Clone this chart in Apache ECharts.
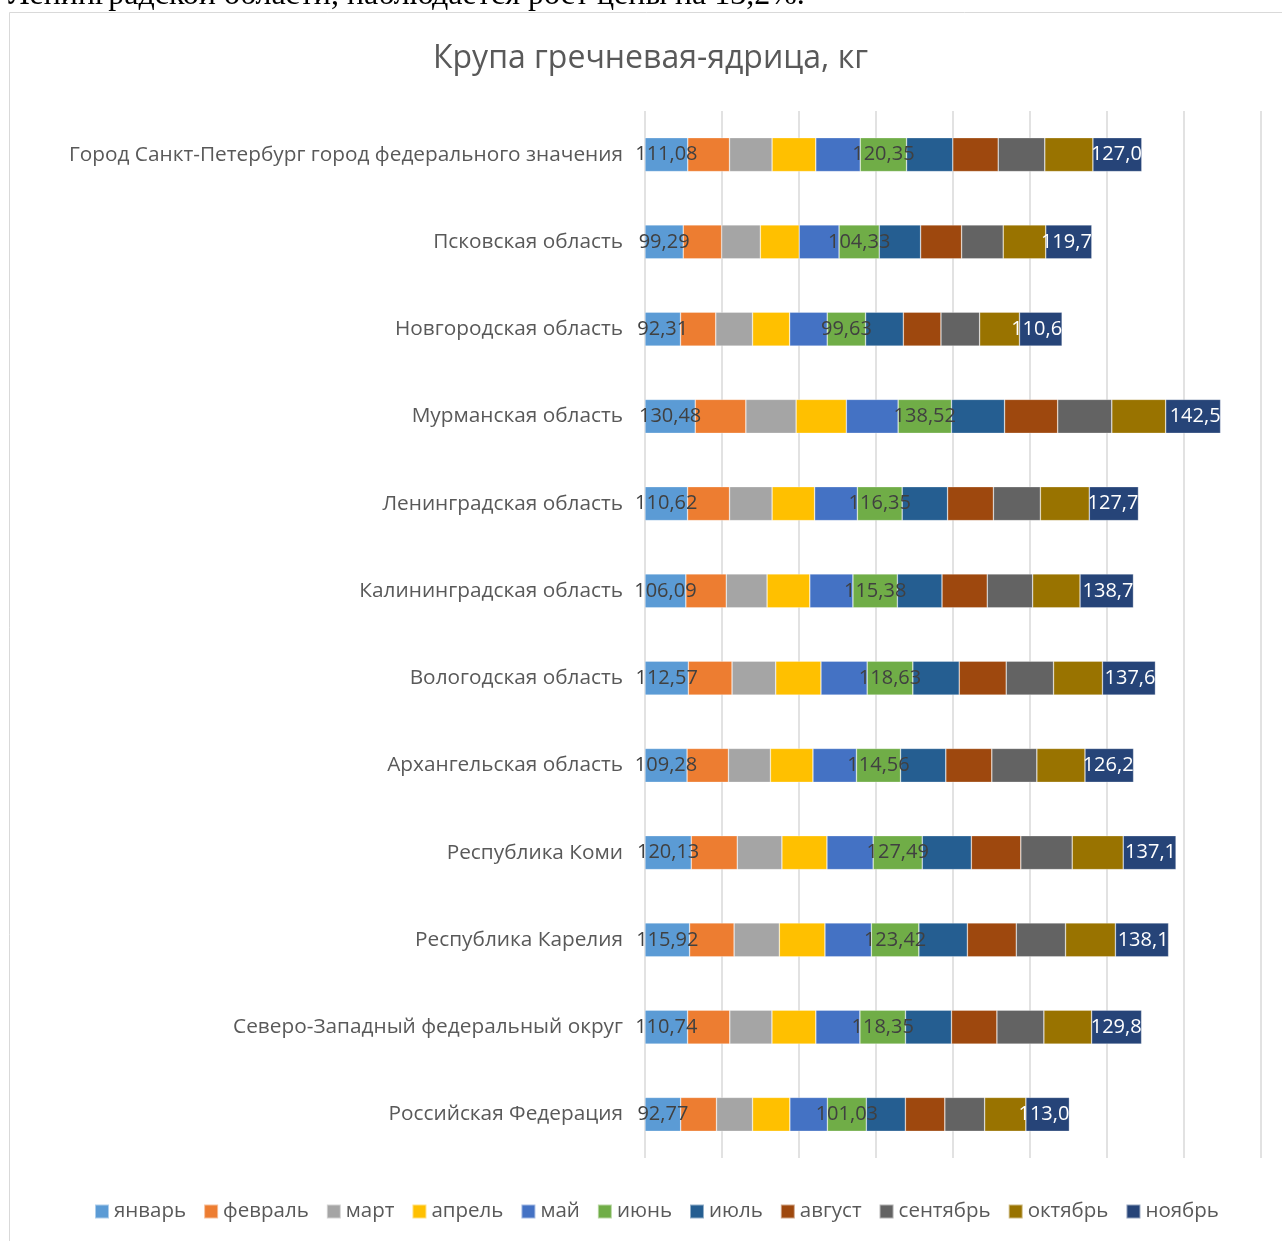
<!DOCTYPE html>
<html>
<head>
<meta charset="utf-8">
<script src="https://cdn.jsdelivr.net/npm/echarts@6/dist/echarts.min.js"></script>
<style>
html,body{margin:0;padding:0;background:#fff;}
#main{width:1282px;height:1241px;}
</style>
</head>
<body>
<div id="main"></div>
<script>
// Categories, bottom to top (ECharts category axis starts at the bottom)
const categories = [
  "Российская Федерация",
  "Северо-Западный федеральный округ",
  "Республика Карелия",
  "Республика Коми",
  "Архангельская область",
  "Вологодская область",
  "Калининградская область",
  "Ленинградская область",
  "Мурманская область",
  "Новгородская область",
  "Псковская область",
  "Город Санкт-Петербург город федерального значения"
];
const months = ["январь","февраль","март","апрель","май","июнь","июль","август","сентябрь","октябрь","ноябрь"];
const colors = ["#5B9BD5","#ED7D31","#A5A5A5","#FFC000","#4472C4","#70AD47","#255E91","#9E480E","#636363","#997300","#264478"];

// Values per month, same order as categories
const jan = [92.77, 110.74, 115.92, 120.13, 109.28, 112.57, 106.09, 110.62, 130.48, 92.31, 99.29, 111.08];
const feb = [93.0, 109.5, 115.5, 119.5, 107.5, 113.5, 105.0, 109.0, 131.5, 91.5, 99.8, 108.5];
const mar = [93.5, 109.5, 117.5, 116.0, 109.0, 113.5, 106.0, 110.5, 130.5, 95.5, 100.5, 110.5];
const apr = [97.0, 114.0, 118.5, 117.0, 110.5, 117.5, 111.0, 110.5, 130.5, 96.5, 101.0, 113.5];
const may = [97.5, 114.5, 120.5, 120.0, 113.0, 120.0, 112.0, 111.0, 134.5, 97.5, 103.5, 115.5];
const jun = [101.03, 118.35, 123.42, 127.49, 114.56, 118.63, 115.38, 116.35, 138.52, 99.63, 104.33, 120.35];
const jul = [101.5, 119.5, 126.0, 127.5, 117.5, 120.5, 116.0, 118.0, 138.0, 98.0, 107.5, 120.0];
const aug = [102.5, 118.0, 127.0, 128.5, 119.5, 122.0, 117.5, 119.0, 138.0, 97.8, 106.5, 118.0];
const sep = [103.5, 122.0, 128.0, 133.5, 117.0, 123.0, 118.0, 122.0, 140.5, 100.5, 108.0, 121.0];
const oct = [107.0, 124.0, 129.5, 132.5, 125.0, 127.0, 123.0, 127.0, 140.0, 103.5, 110.5, 125.0];
const nov = [113.04, 129.84, 138.15, 137.19, 126.25, 137.62, 138.76, 127.74, 142.54, 110.64, 119.74, 127.04];

const seriesValues = [jan, feb, mar, apr, may, jun, jul, aug, sep, oct, nov];
const labelled = {0: "#404040", 5: "#404040", 10: "#ffffff"};

const fmt = v => v.toFixed(2).replace('.', ',');
// November labels are cut off at the end of the bar in the reference: only one decimal is visible
const fmtCut = v => (Math.floor(v * 10 + 1e-6) / 10).toFixed(1).replace('.', ',');
const FONT = "Open Sans";

const series = months.map((m, i) => {
  const s = {
    name: m,
    type: 'bar',
    stack: 'total',
    barWidth: 34,
    itemStyle: {color: colors[i], borderColor: 'rgba(255,255,255,0.5)', borderWidth: 0.6},
    data: seriesValues[i],
    label: {show: false}
  };
  if (labelled[i] !== undefined) {
    s.label = {
      show: true,
      position: i === 10 ? 'insideRight' : 'inside',
      distance: 0,
      color: labelled[i],
      fontFamily: FONT,
      fontSize: 20,
      formatter: i === 10 ? (p => fmtCut(p.value)) : (p => fmt(p.value))
    };
  }
  return s;
});

const chart = echarts.init(document.getElementById('main'), null, {renderer: 'canvas'});
const option = {
  animation: false,
  backgroundColor: '#ffffff',
  color: colors,
  graphic: [
    {type: 'rect', shape: {x: 9.5, y: 12.5, width: 1300, height: 1300}, style: {fill: 'none', stroke: '#d9d9d9', lineWidth: 1}, silent: true, z: -10},
    {type: 'text', x: 8, y: 12, style: {text: 'Ленинградской области, наблюдается рост цены на 13,2%.', font: '32px "Liberation Serif"', fill: '#000', textVerticalAlign: 'bottom'}, z: 10}
  ],
  title: {
    text: 'Крупа гречневая-ядрица, кг',
    left: 428,
    top: 38,
    textStyle: {fontFamily: FONT, fontSize: 32, fontWeight: 'normal', color: '#595959'}
  },
  legend: {
    data: months,
    top: 1196,
    left: 89,
    icon: 'rect',
    itemWidth: 14,
    itemHeight: 14,
    itemGap: 17,
    textStyle: {fontFamily: FONT, fontSize: 20.5, color: '#595959'}
  },
  grid: {left: 645, right: 21, top: 111, height: 1047, containLabel: false},
  xAxis: {
    type: 'value',
    min: 0,
    max: 1600,
    interval: 200,
    axisLabel: {show: false},
    axisLine: {show: false},
    axisTick: {show: false},
    splitLine: {show: true, lineStyle: {color: '#d9d9d9', width: 1.5}}
  },
  yAxis: {
    type: 'category',
    data: categories,
    axisLine: {show: false},
    axisTick: {show: false},
    axisLabel: {fontFamily: FONT, fontSize: 20.8, color: '#595959', margin: 22}
  },
  series: series
};
chart.setOption(option);
</script>
</body>
</html>
